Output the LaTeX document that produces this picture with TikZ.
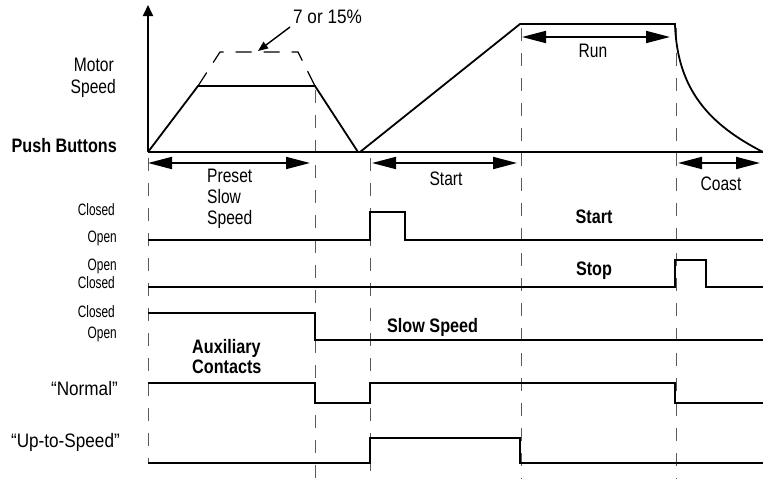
\documentclass[tikz,border=0pt]{standalone}
\usepackage{fontspec}
\setmainfont{Liberation Sans}[FakeStretch=0.8]
\newfontfamily\boldfam{Liberation Sans}[FakeStretch=0.83]
\newfontfamily\smallfam{Liberation Sans}[FakeStretch=0.72]
\newfontfamily\widefam{Liberation Sans}[FakeStretch=0.88]
\usetikzlibrary{arrows.meta}
\begin{document}
\begin{tikzpicture}[x=1pt,y=-1pt,
  sig/.style={line width=1.8pt, line join=miter},
  guide/.style={line width=1pt, black!65, dash pattern=on 13pt off 12pt},
  ghost/.style={line width=1.2pt, dash pattern=on 16pt off 12pt},
  dimarrow/.style={line width=1.9pt, {Triangle[length=24pt,width=12pt]}-{Triangle[length=24pt,width=12pt]}},
  lbl/.style={inner sep=0pt, font=\fontsize{19.5}{23}\selectfont},
  wlbl/.style={inner sep=0pt, font=\widefam\fontsize{19.5}{23}\selectfont},
  blbl/.style={inner sep=0pt, font=\boldfam\fontsize{19.5}{23}\selectfont\bfseries},
  slbl/.style={inner sep=0pt, font=\smallfam\fontsize{16.5}{19}\selectfont},
]
\useasboundingbox (0,0) rectangle (763,479);

% guide lines
\draw[guide] (148,158) -- (148,463);
\draw[guide] (315,90) -- (315,479);
\draw[guide] (370,158) -- (370,479);
\draw[guide] (521,28) -- (521,479);
\draw[guide] (676,28) -- (676,479);

% axes
\coordinate (o) at (148,152);
\coordinate (ytop) at (148,5);
\coordinate (xend) at (763,152);
\draw[line width=1.8pt, -{Triangle[length=11pt,width=10pt]}] (o) -- (ytop);
\draw[line width=1.8pt] (o) -- (xend);

% speed profile
\draw[sig] (o) -- (198,86) -- (315,86) -- (358,152);
\draw[sig] (360,152) -- (520,24) -- (675,24) .. controls (677,90) and (710,125) .. (763,152);
\draw[ghost] (198,86) -- (220,52) -- (298,52) -- (315,86);

% 7 or 15%
\node[wlbl, anchor=west] (pct) at (293,17) {7 or 15\%};
\coordinate (pcttail) at (290,27);
\coordinate (pcttip) at (258,51);
\draw[line width=1.4pt, -{Triangle[length=10pt,width=8pt]}] (pcttail) -- (pcttip);

% left labels
\node[lbl, anchor=base east] (motor) at (114,71) {Motor};
\node[lbl, anchor=base east] (speed) at (116,93) {Speed};
\node[blbl, anchor=base east] (push) at (117,152) {Push Buttons};

% dimension arrows
\coordinate (pa) at (148,163); \coordinate (pb) at (310,163);
\coordinate (sa) at (372,163); \coordinate (sb) at (517,163);
\coordinate (ra) at (522,37);  \coordinate (rb) at (670,37);
\coordinate (ca) at (678,163); \coordinate (cb) at (760,163);
\draw[dimarrow] (pa) -- (pb);
\draw[dimarrow] (sa) -- (sb);
\draw[dimarrow] (ra) -- (rb);
\draw[dimarrow] (ca) -- (cb);

\node[lbl, anchor=base west] (preset) at (207,182) {Preset};
\node[lbl, anchor=base west] (slow) at (207,203) {Slow};
\node[lbl, anchor=base west] (pspeed) at (207,224) {Speed};
\node[lbl, anchor=base] (startlbl) at (446,185) {Start};
\node[lbl, anchor=base] (run) at (593,57) {Run};
\node[lbl, anchor=base] (coast) at (721,190) {Coast};

% push button rows
\node[slbl, anchor=base east] (c1) at (115,215) {Closed};
\node[slbl, anchor=base east] (o1) at (117,242) {Open};
\draw[sig] (148,240) -- (370,240) -- (370,212) -- (405,212) -- (405,240) -- (763,240);
\node[blbl, anchor=base] (startb) at (594,223) {Start};

\node[slbl, anchor=base east] (o2) at (117,270) {Open};
\node[slbl, anchor=base east] (c2) at (115,288) {Closed};
\draw[sig] (148,287) -- (675,287) -- (675,260) -- (706,260) -- (706,287) -- (763,287);
\node[blbl, anchor=base] (stopb) at (594,275) {Stop};

\node[slbl, anchor=base east] (c3) at (115,317) {Closed};
\node[slbl, anchor=base east] (o3) at (117,338) {Open};
\draw[sig] (148,313) -- (315,313) -- (315,340) -- (763,340);
\node[blbl, anchor=base west] (slowb) at (387,332) {Slow Speed};

% auxiliary contacts
\node[blbl, anchor=base west] (aux) at (192,353) {Auxiliary};
\node[blbl, anchor=base west] (cont) at (192,373) {Contacts};

\node[wlbl, anchor=base east] (normal) at (118,395) {“Normal”};
\draw[sig] (148,383) -- (315,383) -- (315,403) -- (370,403) -- (370,383) -- (675,383) -- (675,403) -- (763,403);

\node[wlbl, anchor=base east] (uts) at (120,447) {“Up-to-Speed”};
\draw[sig] (148,463) -- (370,463) -- (370,438) -- (520,438) -- (520,463) -- (763,463);
\end{tikzpicture}
\end{document}
